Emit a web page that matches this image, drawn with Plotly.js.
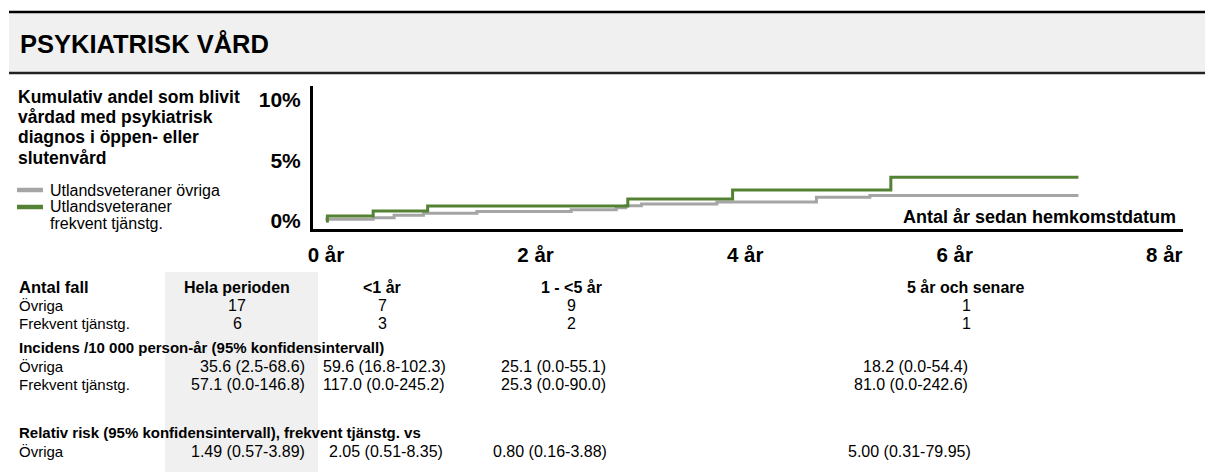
<!DOCTYPE html>
<html><head><meta charset="utf-8">
<script src="https://cdn.plot.ly/plotly-3.0.1.min.js"></script>
<style>html,body{margin:0;padding:0;background:#fff;}#chart{width:1205px;height:472px;}</style>
</head><body><div id="chart"></div>
<script>
// ---- data ----
const xTickVals = [0, 2, 4, 6, 8];
const xTickText = ['0 år', '2 år', '4 år', '6 år', '8 år'];
const yTickVals = [0, 5, 10];
const yTickText = ['0%', '5%', '10%'];

const seriesNames = ['Utlandsveteraner övriga', 'Utlandsveteraner frekvent tjänstg.'];
const grayYears = [0, 0.01, 0.45, 0.65, 0.93, 1.44, 2.34, 2.77, 2.86, 3.01, 3.73, 4.68, 5.19, 7.18];
const grayPct   = [0, 0.14, 0.27, 0.47, 0.64, 0.79, 0.93, 1.09, 1.26, 1.41, 1.57, 1.96, 2.11, 2.11];
const greenYears = [0, 0.013, 0.45, 0.97, 2.88, 3.88, 5.39, 7.18];
const greenPct   = [0, 0.41, 0.83, 1.24, 1.82, 2.56, 3.61, 3.61];

const tableCols = ['Hela perioden', '<1 år', '1 - <5 år', '5 år och senare'];
const casesOvriga = ['17', '7', '9', '1'];
const casesFrekvent = ['6', '3', '2', '1'];
const incOvriga = ['35.6 (2.5-68.6)', '59.6 (16.8-102.3)', '25.1 (0.0-55.1)', '18.2 (0.0-54.4)'];
const incFrekvent = ['57.1 (0.0-146.8)', '117.0 (0.0-245.2)', '25.3 (0.0-90.0)', '81.0 (0.0-242.6)'];
const rrOvriga = ['1.49 (0.57-3.89)', '2.05 (0.51-8.35)', '0.80 (0.16-3.88)', '5.00 (0.31-79.95)'];

// ---- layout geometry (pixels) ----
const W = 1205, H = 472;
const PL = 313, PR = 1183, PT = 86, PB = 229;
const px = x => (x - PL) / (PR - PL);
const py = y => (PB - y) / (PB - PT);
const FONT = 'Liberation Sans, Arial, sans-serif';

const annotations = [];
function ann(text, x, y, o) {
  o = o || {};
  annotations.push({
    text: o.bold ? '<b>' + text + '</b>' : text,
    xref: 'paper', yref: 'paper', x: px(x), y: py(y),
    xanchor: o.xa || 'left', yanchor: 'middle', showarrow: false,
    font: {family: FONT, size: o.size || 15, color: o.color || '#000'}
  });
}
const shapes = [];
function rect(x0, y0, x1, y1, fill) {
  shapes.push({type: 'rect', xref: 'paper', yref: 'paper', x0: px(x0), x1: px(x1), y0: py(y0), y1: py(y1),
    fillcolor: fill, line: {width: 0}, layer: 'below'});
}
function hline(x0, x1, y, color, w) {
  shapes.push({type: 'line', xref: 'paper', yref: 'paper', x0: px(x0), x1: px(x1), y0: py(y), y1: py(y),
    line: {color: color, width: w}});
}

// header band
rect(9, 13, W, 72, '#f0f0f0');
hline(9, W, 12, '#000', 2.5);
hline(9, W, 73, '#222', 2.5);
ann('PSYKIATRISK VÅRD', 18, 44, {bold: true, size: 25.5});

// y title (left block)
const yTitleLines = ['Kumulativ andel som blivit', 'vårdad med psykiatrisk', 'diagnos i öppen- eller', 'slutenvård'];
const yTitleY = [97, 117, 137, 158];
yTitleLines.forEach((t, i) => ann(t, 16, yTitleY[i], {bold: true, size: 17.5}));

// legend
const greyC = '#a5a5a5', greenC = '#548235';
hline(17, 43, 190, greyC, 4.5);
hline(17, 43, 207, greenC, 4.5);
ann('Utlandsveteraner övriga', 48, 190, {size: 16});
ann('Utlandsveteraner', 48, 206, {size: 16});
ann('frekvent tjänstg.', 48, 223, {size: 16});

// x axis title
ann('Antal år sedan hemkomstdatum', 1178, 217, {bold: true, size: 18, xa: 'right'});

// table
rect(165, 272, 318, H, '#f0f0f0');
const rowY = [287, 305, 323, 347, 366, 384, 432, 451];
const colC = [237, 382, 571, 966];
const VS = 16;
ann('Antal fall', 17, rowY[0], {bold: true, size: 16.5});
tableCols.forEach((c, i) => ann(c, colC[i], rowY[0], {bold: true, xa: 'center', size: 16}));
ann('Övriga', 17, rowY[1]);
casesOvriga.forEach((v, i) => ann(v, colC[i], rowY[1], {xa: 'center', size: VS}));
ann('Frekvent tjänstg.', 17, rowY[2]);
casesFrekvent.forEach((v, i) => ann(v, colC[i], rowY[2], {xa: 'center', size: VS}));

ann('Incidens /10 000 person-år (95% konfidensintervall)', 17, rowY[3], {bold: true});
const incX = [307, 384, 608, 970];
const incA = ['right', 'center', 'right', 'right'];
ann('Övriga', 17, rowY[4]);
incOvriga.forEach((v, i) => ann(v, incX[i], rowY[4], {xa: incA[i], size: VS}));
ann('Frekvent tjänstg.', 17, rowY[5]);
incFrekvent.forEach((v, i) => ann(v, incX[i], rowY[5], {xa: incA[i], size: VS}));

ann('Relativ risk (95% konfidensintervall), frekvent tjänstg. vs', 17, rowY[6], {bold: true});
const rrX = [307, 386, 609, 973];
ann('Övriga', 17, rowY[7]);
rrOvriga.forEach((v, i) => ann(v, rrX[i], rowY[7], {xa: incA[i], size: VS}));

const traces = [
  {x: grayYears, y: grayPct, name: seriesNames[0], type: 'scatter', mode: 'lines',
   line: {shape: 'hv', color: greyC, width: 3}, hoverinfo: 'skip'},
  {x: greenYears, y: greenPct, name: seriesNames[1], type: 'scatter', mode: 'lines',
   line: {shape: 'hv', color: greenC, width: 3}, hoverinfo: 'skip'}
];

const layout = {
  width: W, height: H,
  margin: {l: PL, r: W - PR, t: PT, b: H - PB, pad: 0},
  paper_bgcolor: '#fff', plot_bgcolor: 'rgba(0,0,0,0)',
  showlegend: false,
  font: {family: FONT, color: '#000'},
  xaxis: {range: [-0.124, 8.178], tickvals: xTickVals, ticktext: xTickText,
    tickfont: {family: FONT, size: 20.5, weight: 'bold', color: '#000'},
    showline: true, linecolor: '#000', linewidth: 3, showgrid: false, zeroline: false,
    ticks: '', ticklabelstandoff: 5, fixedrange: true},
  yaxis: {range: [-0.66, 11.16], tickvals: yTickVals, ticktext: yTickText,
    tickfont: {family: FONT, size: 21, weight: 'bold', color: '#000'},
    showline: true, linecolor: '#000', linewidth: 3, showgrid: false, zeroline: false,
    ticks: '', ticklabelstandoff: 5, fixedrange: true},
  shapes: shapes,
  annotations: annotations
};

Plotly.newPlot('chart', traces, layout, {displayModeBar: false, staticPlot: true});
</script>
</body></html>
